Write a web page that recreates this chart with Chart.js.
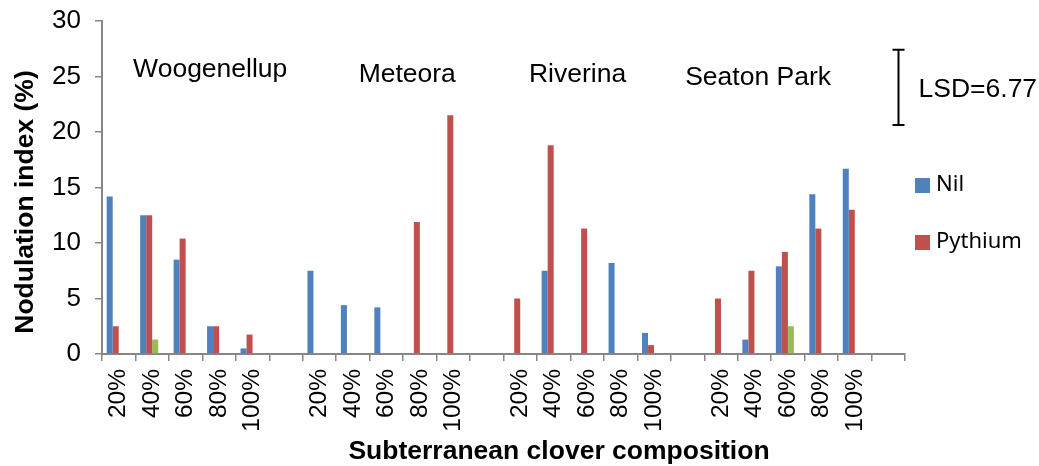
<!DOCTYPE html>
<html>
    <head>
        <meta charset="utf-8">
        <title>Nodulation index</title>
        <script src="https://cdn.jsdelivr.net/npm/chart.js@4.4.1/dist/chart.umd.min.js"></script>
        <style>
            body { margin: 0; background: #fff; }
            #wrap { width: 1039px; height: 466px; }
        </style>
    </head>
    <body>
        <div id="wrap"><canvas id="chart" width="1039" height="466"></canvas></div>
        <script>
        // composition ticks, one blank slot after each cultivar
        const categories = [
            '20%', '40%', '60%', '80%', '100%', '',
            '20%', '40%', '60%', '80%', '100%', '',
            '20%', '40%', '60%', '80%', '100%', '',
            '20%', '40%', '60%', '80%', '100%', ''
        ];
        const cultivars = ['Woogenellup', 'Meteora', 'Riverina', 'Seaton Park'];

        const nil = [
            14.2, 12.5, 8.5, 2.5, 0.5, null,
            7.5, 4.4, 4.2, null, null, null,
            null, 7.5, null, 8.2, 1.9, null,
            null, 1.3, 7.9, 14.4, 16.7, null
        ];
        const pythium = [
            2.5, 12.5, 10.4, 2.5, 1.75, null,
            null, null, null, 11.9, 21.5, null,
            5.0, 18.8, 11.3, null, 0.8, null,
            5.0, 7.5, 9.2, 11.3, 13.0, null
        ];
        const series3 = [
            null, 1.3, null, null, null, null,
            null, null, null, null, null, null,
            null, null, null, null, null, null,
            null, null, 2.5, null, null, null
        ];
        const series4 = categories.map(() => null);   // empty fourth series, only takes its slot

        const yTicks = [0, 5, 10, 15, 20, 25, 30];
        const lsd = 6.77;

        // where the cultivar names and the LSD bar sit (category index, y value)
        const cultivarPos = [[0.43, 25.0], [7.17, 24.5], [12.26, 24.5], [16.93, 24.2]];
        const lsdPos = { x: 23.28, top: 27.4 };

        const axisGrey = '#868686';

        const annotations = {
            id: 'annotations',
            afterDraw(chart) {
                const ctx = chart.ctx;
                const xs = chart.scales.x, ys = chart.scales.y;
                const area = chart.chartArea;
                ctx.save();
                ctx.fillStyle = '#000';

                // cultivar names
                ctx.font = '26.5px "Liberation Sans", Arial, sans-serif';
                ctx.textAlign = 'left';
                ctx.textBaseline = 'alphabetic';
                cultivars.forEach((name, i) => {
                    ctx.fillText(name, xs.getPixelForValue(cultivarPos[i][0]), ys.getPixelForValue(cultivarPos[i][1]));
                });

                // LSD bar
                const lx = Math.round(xs.getPixelForValue(lsdPos.x)) + 0.5;
                const y1 = ys.getPixelForValue(lsdPos.top);
                const y2 = ys.getPixelForValue(lsdPos.top - lsd);
                ctx.strokeStyle = '#000';
                ctx.lineWidth = 2;
                ctx.beginPath();
                ctx.moveTo(lx, y1); ctx.lineTo(lx, y2);
                ctx.moveTo(lx - 6, y1); ctx.lineTo(lx + 6, y1);
                ctx.moveTo(lx - 6, y2); ctx.lineTo(lx + 6, y2);
                ctx.stroke();
                ctx.fillText('LSD=' + lsd, lx + 20, (y1 + y2) / 2 + 10);

                // legend (Nil and Pythium only)
                ctx.font = '22px "Noto Sans", sans-serif';
                ctx.textBaseline = 'middle';
                [0, 1].forEach((d, i) => {
                    const ds = chart.data.datasets[d];
                    const by = 185 + i * 57;
                    ctx.fillStyle = ds.backgroundColor;
                    ctx.fillRect(area.right + 10, by - 7, 15, 15);
                    ctx.fillStyle = '#000';
                    ctx.fillText(ds.label, area.right + 31, by);
                });

                // axis titles
                ctx.font = 'bold 26.5px "Liberation Sans", Arial, sans-serif';
                ctx.textAlign = 'center';
                ctx.textBaseline = 'alphabetic';
                ctx.fillText('Subterranean clover composition', 559, 459);
                ctx.translate(33, 202);
                ctx.rotate(-Math.PI / 2);
                ctx.fillText('Nodulation index (%)', 0, 0);
                ctx.restore();
            }
        };

        const ctx = document.getElementById('chart').getContext('2d');
        const myChart = new Chart(ctx, {
            type: 'bar',
            data: {
                labels: categories,
                datasets: [
                    { label: 'Nil', data: nil, backgroundColor: '#4F81BD' },
                    { label: 'Pythium', data: pythium, backgroundColor: '#C0504D' },
                    { label: 'Series3', data: series3, backgroundColor: '#9BBB59' },
                    { label: 'Series4', data: series4, backgroundColor: '#8064A2' }
                ]
            },
            options: {
                responsive: false,
                animation: false,
                layout: { padding: { top: 21, right: 134, left: 0, bottom: 0 } },
                datasets: { bar: { barPercentage: 1, categoryPercentage: 0.72, borderWidth: 0 } },
                plugins: { legend: { display: false }, tooltip: { enabled: false } },
                scales: {
                    x: {
                        grid: { display: true, drawOnChartArea: false, tickLength: 7, color: axisGrey, lineWidth: 1.5 },
                        border: { color: axisGrey, width: 2 },
                        ticks: {
                            autoSkip: false, maxRotation: 90, minRotation: 90, padding: 8,
                            color: '#000', font: { family: '"Liberation Sans", Arial, sans-serif', size: 24.5 }
                        },
                        afterFit(scale) { scale.height = 112; scale.paddingLeft = 0; scale.paddingRight = 0; }
                    },
                    y: {
                        min: 0, max: 30,
                        afterBuildTicks(scale) { scale.ticks = yTicks.map(v => ({ value: v })); },
                        grid: { display: true, drawOnChartArea: false, tickLength: 7, color: axisGrey, lineWidth: 1.5 },
                        border: { color: axisGrey, width: 2 },
                        ticks: {
                            padding: 14, color: '#000',
                            font: { family: '"Liberation Sans", Arial, sans-serif', size: 26 }
                        },
                        afterFit(scale) { scale.width = 102; scale.paddingTop = 0; scale.paddingBottom = 0; }
                    }
                }
            },
            plugins: [annotations]
        });
        </script>
    </body>
</html>
